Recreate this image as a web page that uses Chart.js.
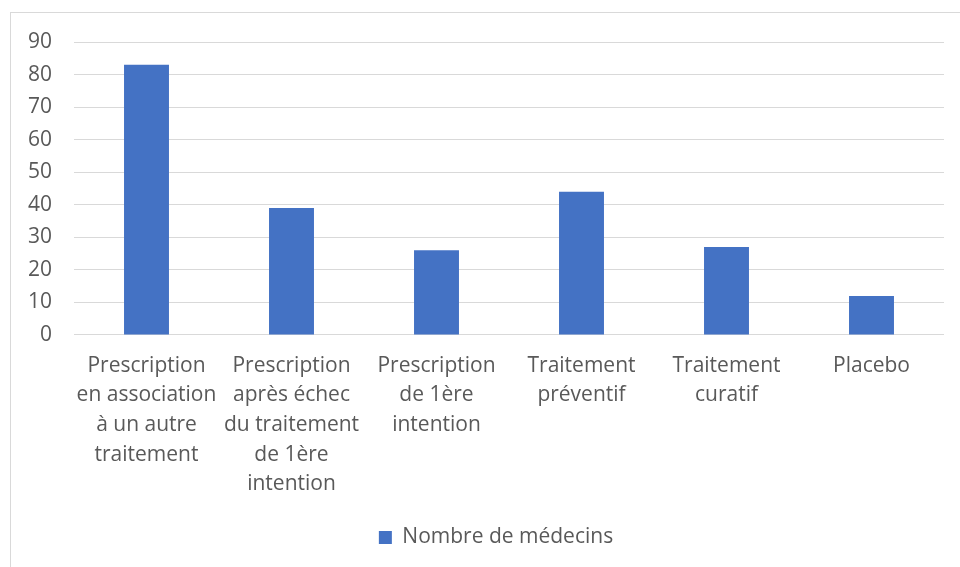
<!DOCTYPE html>
<html>
<head>
<meta charset="utf-8">
<script src="https://cdn.jsdelivr.net/npm/chart.js@4"></script>
<style>
html,body{margin:0;padding:0;background:#fff;}
#wrap{width:960px;height:567px;position:relative;}
</style>
</head>
<body>
<div id="wrap"><canvas id="c" width="960" height="567"></canvas></div>
<script>
const categories = [
  ["Prescription", "en association", "à un autre", "traitement"],
  ["Prescription", "après échec", "du traitement", "de 1ère", "intention"],
  ["Prescription", "de 1ère", "intention"],
  ["Traitement", "préventif"],
  ["Traitement", "curatif"],
  ["Placebo"]
];
const seriesName = "Nombre de médecins";
const values = [83, 39, 26, 44, 27, 12];
const yTicks = [0, 10, 20, 30, 40, 50, 60, 70, 80, 90];

const borderPlugin = {
  id: 'outerBorder',
  beforeDraw(chart) {
    const ctx = chart.ctx;
    ctx.save();
    ctx.fillStyle = '#fff';
    ctx.fillRect(0, 0, chart.width, chart.height);
    ctx.strokeStyle = '#d9d9d9';
    ctx.lineWidth = 1;
    ctx.strokeRect(10.5, 12.5, 1000, 1000);
    ctx.restore();
  },
  afterLayout(chart) {
    if (chart.legend) {
      chart.legend.left += 19;
      chart.legend.right += 19;
    }
  }
};

Chart.defaults.font.family = '"Open Sans", Lato, sans-serif';
Chart.defaults.color = '#595959';

new Chart(document.getElementById('c'), {
  type: 'bar',
  data: {
    labels: categories,
    datasets: [{
      label: seriesName,
      data: values,
      backgroundColor: '#4472C4',
      borderWidth: 0,
      categoryPercentage: 1,
      barPercentage: 0.31
    }]
  },
  options: {
    responsive: false,
    animation: false,
    layout: { padding: { left: 10, right: 16, top: 42, bottom: 9 } },
    plugins: {
      legend: {
        position: 'bottom',
        labels: {
          boxWidth: 13,
          boxHeight: 13,
          padding: 20,
          font: { size: 21 },
          color: '#595959'
        }
      },
      tooltip: { enabled: false }
    },
    scales: {
      x: {
        grid: { display: false },
        border: { display: false },
        ticks: {
          maxRotation: 0,
          autoSkip: false,
          font: { size: 21, lineHeight: 1.41 },
          color: '#595959',
          padding: 8
        }
      },
      y: {
        min: 0,
        max: 90,
        afterBuildTicks(scale) { scale.ticks = yTicks.map(v => ({ value: v })); },
        afterFit(scale) { scale.width = 64; },
        grid: { color: '#d9d9d9', lineWidth: 1, drawTicks: false },
        border: { display: false },
        ticks: {
          stepSize: 10,
          padding: 22,
          font: { size: 21 },
          color: '#595959'
        }
      }
    }
  },
  plugins: [borderPlugin]
});
</script>
</body>
</html>
